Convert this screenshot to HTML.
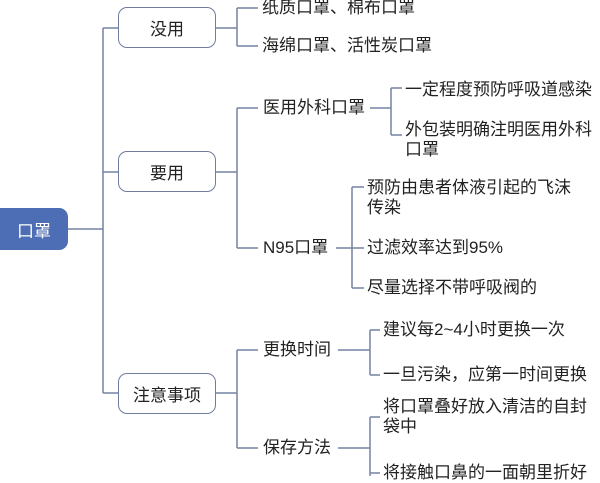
<!DOCTYPE html>
<html><head><meta charset="utf-8"><style>
body{margin:0;width:600px;height:476px;background:#fff;position:relative;overflow:hidden;font-family:"Liberation Sans","Noto Sans CJK SC",sans-serif;}
.t{position:absolute;font-size:17px;line-height:20px;color:#222;white-space:nowrap;}
.b{position:absolute;border:1.5px solid #6f7c9c;border-radius:9px;background:#fff;box-sizing:border-box;font-size:17px;color:#222;display:flex;align-items:center;justify-content:center;}
svg{position:absolute;left:0;top:0;}
</style></head><body>
<svg width="600" height="476"><g stroke="#7583a4" stroke-width="1.5" fill="none">
<path d="M68 229H103M103 28V393M103 28H118M103 172H118M103 393H118"/>
<path d="M216 28H237M237 8V46M237 8H258M237 46H258"/>
<path d="M216 172H237M237 108V248M237 108H258M237 248H258"/>
<path d="M216 393H237M237 350V448M237 350H258M237 448H258"/>
<path d="M370 108H391M391 88V135M391 88H402M391 135H402"/>
<path d="M336 248H364M352 187V288M352 187H364M352 288H364"/>
<path d="M338 350H370M370 330V375M370 330H380M370 375H380"/>
<path d="M338 448H370M370 417V476M370 417H380M370 473H380"/>
</g></svg>
<div class="b" style="left:0;top:208px;width:68px;height:42px;background:#4d6db4;border-color:#4d6db4;color:#fff;border-radius:0 9px 9px 0;">口罩</div>
<div class="b" style="left:118px;top:7px;width:98px;height:41px;">没用</div>
<div class="b" style="left:118px;top:151px;width:98px;height:41px;">要用</div>
<div class="b" style="left:118px;top:373px;width:98px;height:41px;">注意事项</div>
<div class="t" style="left:262px;top:-2px">纸质口罩、棉布口罩</div>
<div class="t" style="left:262px;top:36px">海绵口罩、活性炭口罩</div>
<div class="t" style="left:263px;top:98px">医用外科口罩</div>
<div class="t" style="left:263px;top:238px">N95口罩</div>
<div class="t" style="left:405px;top:80px">一定程度预防呼吸道感染</div>
<div class="t" style="left:405px;top:120px">外包装明确注明医用外科<br>口罩</div>
<div class="t" style="left:367px;top:178px">预防由患者体液引起的飞沫<br>传染</div>
<div class="t" style="left:367px;top:238px">过滤效率达到95%</div>
<div class="t" style="left:367px;top:278px">尽量选择不带呼吸阀的</div>
<div class="t" style="left:263px;top:340px">更换时间</div>
<div class="t" style="left:263px;top:438px">保存方法</div>
<div class="t" style="left:383px;top:320px">建议每2~4小时更换一次</div>
<div class="t" style="left:383px;top:365px">一旦污染，应第一时间更换</div>
<div class="t" style="left:383px;top:397px">将口罩叠好放入清洁的自封<br>袋中</div>
<div class="t" style="left:383px;top:463px">将接触口鼻的一面朝里折好</div>
</body></html>
